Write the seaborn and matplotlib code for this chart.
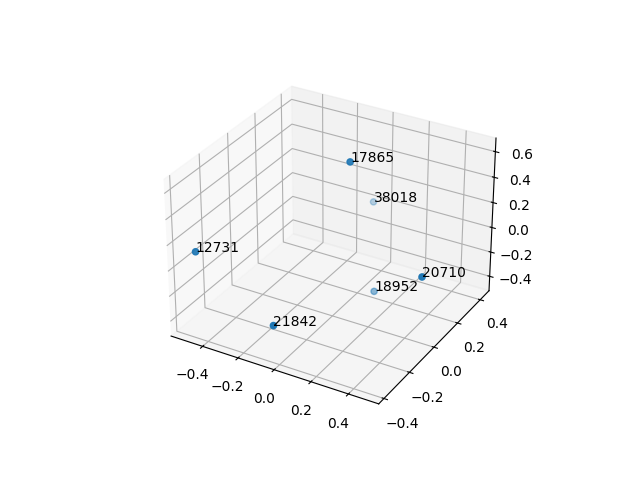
import matplotlib
matplotlib.use("Agg")
import matplotlib.pyplot as plt
import seaborn as sns

labels = ["17865", "38018", "18952", "20710", "21842", "12731"]
xs = [-0.011, 0.004, 0.158, 0.437, -0.116, -0.542]
ys = [0.152, 0.321, 0.107, 0.077, -0.290, -0.296]
zs = [0.571, 0.121, -0.350, -0.084, -0.369, 0.04]

color = sns.color_palette("tab10")[0]
fig = plt.figure(figsize=(6.4, 4.8), dpi=100)
ax = fig.add_subplot(projection="3d")
ax.scatter(xs, ys, zs, color=color)
for x, y, z, s in zip(xs, ys, zs, labels):
    ax.text(x, y, z, s)
ax.set_xlim(-0.581, 0.559)
ax.set_ylim(-0.44, 0.48)
ax.set_zlim(-0.52, 0.705)
fig.savefig("out.png", dpi=100)
